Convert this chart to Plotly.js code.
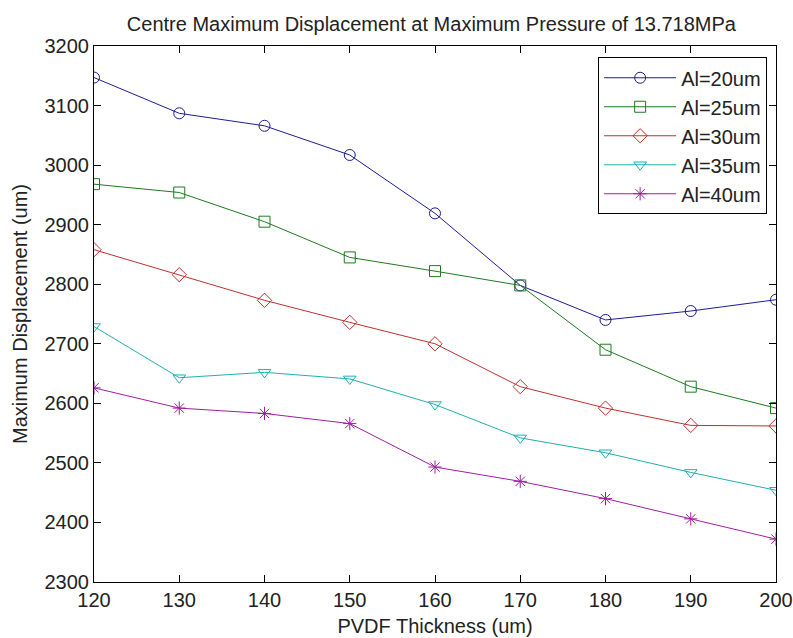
<!DOCTYPE html>
<html>
<head>
<meta charset="utf-8">
<script src="https://cdn.plot.ly/plotly-3.0.1.min.js"></script>
<style>html,body{margin:0;padding:0;background:#fff;}#chart{width:793px;height:638px;}</style>
</head>
<body>
<div id="chart"></div>
<script>
const thickness = [120, 130, 140, 150, 160, 170, 180, 190, 200];
const al20 = [3147, 3087, 3066, 3017, 2919, 2798, 2740, 2755, 2774];
const al25 = [2968, 2954, 2905, 2845, 2822, 2798, 2690, 2628, 2592];
const al30 = [2858, 2816, 2773, 2736, 2700, 2628, 2592, 2563, 2562];
const al35 = [2729, 2643, 2652, 2641, 2598, 2542, 2517, 2484, 2454];
const al40 = [2626, 2592, 2583, 2566, 2493, 2469, 2440, 2406, 2372];
const seriesNames = ['Al=20um', 'Al=25um', 'Al=30um', 'Al=35um', 'Al=40um'];
const seriesColors = ['#1c1c96', '#1f7a1f', '#c0302e', '#1fb0b0', '#a01fa0'];
const seriesSymbols = ['circle-open', 'square-open', 'diamond-open', 'triangle-down-open', 'asterisk-open'];
const allSeries = [al20, al25, al30, al35, al40];

const FONT = 'Liberation Sans, Arial, sans-serif';
const FS = 20;
const traces = allSeries.map((vals, i) => ({
  x: thickness, y: vals, name: seriesNames[i], type: 'scatter', mode: 'lines+markers',
  line: {color: seriesColors[i], width: 1},
  marker: {symbol: seriesSymbols[i], size: 11, color: seriesColors[i], line: {color: seriesColors[i], width: 1}}
}));

const axisCommon = {
  showgrid: false, zeroline: false, showline: true, linecolor: '#000', linewidth: 1,
  mirror: 'ticks', ticks: 'inside', ticklen: 7, tickcolor: '#000', tickwidth: 1,
  tickfont: {family: FONT, size: FS, color: '#222'}
};

const layout = {
  width: 793, height: 638,
  margin: {l: 94, r: 17, t: 46, b: 56},
  paper_bgcolor: '#fff', plot_bgcolor: '#fff',
  title: {text: 'Centre Maximum Displacement at Maximum Pressure of 13.718MPa',
    font: {family: FONT, size: FS, color: '#222'}, x: 0.544, xanchor: 'center', y: 0.963, yanchor: 'middle'},
  xaxis: Object.assign({}, axisCommon, {range: [120, 200], tickvals: thickness,
    title: {text: 'PVDF Thickness (um)', font: {family: FONT, size: FS, color: '#222'}, standoff: 8}}),
  yaxis: Object.assign({}, axisCommon, {range: [2300, 3200], dtick: 100,
    title: {text: 'Maximum Displacement (um)', font: {family: FONT, size: FS, color: '#222'}, standoff: 11}}),
  showlegend: true,
  legend: {x: 0.987, xanchor: 'right', y: 0.979, yanchor: 'top', bgcolor: '#fff',
    bordercolor: '#000', borderwidth: 1, font: {family: FONT, size: FS, color: '#222'},
    itemwidth: 72}
};

Plotly.newPlot('chart', traces, layout, {displayModeBar: false, staticPlot: true});
</script>
</body>
</html>
